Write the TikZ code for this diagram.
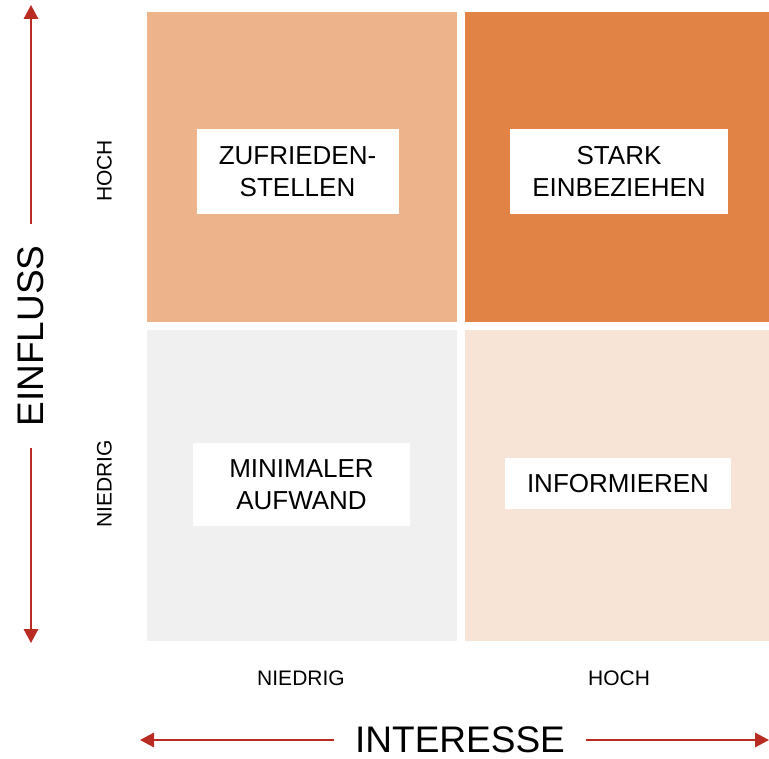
\documentclass[tikz,border=0pt]{standalone}
\usepackage{fontspec}
\setmainfont{Liberation Sans}
\usetikzlibrary{arrows.meta,positioning}
\definecolor{fieldTL}{HTML}{EDB38A}
\definecolor{fieldTR}{HTML}{E08345}
\definecolor{fieldBL}{HTML}{F0F0F0}
\definecolor{fieldBR}{HTML}{F7E4D7}
\definecolor{axisred}{HTML}{B82C22}
\begin{document}
\begin{tikzpicture}[x=1pt,y=-1pt,
    field/.style={anchor=north west,minimum width=310pt,minimum height=310pt,inner sep=0pt,outer sep=0pt},
    textbox/.style={fill=white,inner sep=0pt,align=center,font=\fontsize{26}{32}\selectfont},
    tick/.style={font=\fontsize{21}{25}\selectfont,inner sep=0pt},
    axistitle/.style={font=\fontsize{37}{44}\selectfont,inner xsep=21pt,inner ysep=0pt},
    axisarrow/.style={draw=axisred,line width=1.6pt,-{Triangle[width=14.5pt,length=14pt]}}]
	    \useasboundingbox (0,0) rectangle (769,759);
	    \node[field,fill=fieldTL] (zuf) at (147,12) {};
	    \node[field,fill=fieldTR,minimum width=304pt] (stark) at (465,12) {};
	    \node[field,fill=fieldBL,minimum height=311pt] (mini) at (147,330) {};
	    \node[field,fill=fieldBR,minimum width=304pt,minimum height=311pt] (info) at (465,330) {};
	    \node[textbox,minimum width=202pt,minimum height=85pt] (zuf text) at (297.5,171.5) {ZUFRIEDEN-\\STELLEN};
	    \node[textbox,minimum width=218pt,minimum height=85pt] (stark text) at (619,171.5) {STARK\\EINBEZIEHEN};
	    \node[textbox,minimum width=217pt,minimum height=83pt] (mini text) at (301.5,484.5) {MINIMALER\\AUFWAND};
	    \node[textbox,minimum width=226pt,minimum height=51pt] (info text) at (618,483.5) {INFORMIEREN};
	    \node[tick,rotate=90] (hoch y) at (104.5,171) {HOCH};
	    \node[tick,rotate=90] (niedrig y) at (104.5,484) {NIEDRIG};
	    \node[tick] (niedrig x) at (301,678) {NIEDRIG};
	    \node[tick] (hoch x) at (619,678) {HOCH};
	    \node[axistitle,rotate=90] (einfluss) at (31,336) {EINFLUSS};
	    \node[axistitle] (interesse) at (460,740) {INTERESSE};
	    \coordinate (einfluss top) at (31,5);
	    \coordinate (einfluss bottom) at (31,643);
	    \coordinate (interesse left) at (140,740);
	    \coordinate (interesse right) at (769,740);
	    \draw[axisarrow] (einfluss.east) -- (einfluss top);
	    \draw[axisarrow] (einfluss.west) -- (einfluss bottom);
	    \draw[axisarrow] (interesse.west) -- (interesse left);
	    \draw[axisarrow] (interesse.east) -- (interesse right);
	\end{tikzpicture}
\end{document}
